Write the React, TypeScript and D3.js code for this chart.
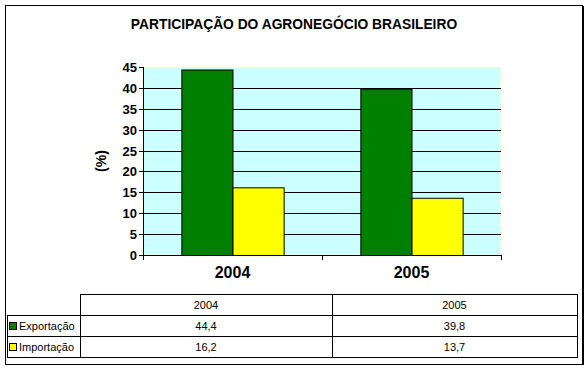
import React from "react";
import * as d3 from "d3";

const title = "PARTICIPAÇÃO DO AGRONEGÓCIO BRASILEIRO";
const categories = ["2004", "2005"];
const seriesNames = ["Exportação", "Importação"];
const exportacao = [44.4, 39.8];
const importacao = [16.2, 13.7];
const tableExport = ["44,4", "39,8"];
const tableImport = ["16,2", "13,7"];
const yTicks = [0, 5, 10, 15, 20, 25, 30, 35, 40, 45];
const yLabel = "(%)";

const colors = ["#008000", "#ffff00"];
const FONT = "'Liberation Sans', Arial, sans-serif";

export default function App() {
  const W = 588, H = 369;
  const plot = { left: 143, right: 501, top: 67, bottom: 255 };
  const x0 = d3.scaleBand<string>().domain(categories).range([plot.left, plot.right]).paddingInner(0).paddingOuter(0);
  const x1 = d3.scaleBand<string>().domain(seriesNames).range([0, x0.bandwidth()]).paddingInner(0).paddingOuter(0.75);
  const y = d3.scaleLinear().domain([0, 45]).range([plot.bottom, plot.top]);
  const series = [exportacao, importacao];
  const tableRows = [tableExport, tableImport];

  // table geometry
  const tHeadTop = 294, rowH = 21;
  const colX = [80, 332, 577];
  const legendLeft = 7;

  return (
    <svg width={W} height={H} style={{ position: "absolute", left: 0, top: 0, background: "#fff" }} fontFamily={FONT}>
      <rect x={0} y={0} width={W} height={H} fill="#fff" />
      {/* outer frame */}
      <rect x={5.5} y={5.5} width={577} height={359} fill="none" stroke="#000" strokeWidth={1} />
      <line x1={583.5} x2={583.5} y1={6} y2={365} stroke="#000" strokeWidth={1} />
      {/* title */}
      <text x={294} y={29} textAnchor="middle" fontSize={13.8} fontWeight="bold">{title}</text>

      {/* plot area */}
      <rect x={plot.left} y={plot.top} width={plot.right - plot.left} height={plot.bottom - plot.top} fill="#ccffff" stroke="#ffffcc" strokeWidth={1} />
      {/* gridlines */}
      {yTicks.filter(t => t > 0 && t < 45).map(t => (
        <line key={t} x1={plot.left} x2={plot.right} y1={Math.round(y(t)) + 0.5} y2={Math.round(y(t)) + 0.5} stroke="#000" strokeWidth={1} />
      ))}
      {/* bars */}
      {categories.map((c, ci) => (
        <g key={c}>
          {seriesNames.map((s, si) => (
            <rect key={s}
              x={(x0(c) ?? 0) + (x1(s) ?? 0) + 0.5}
              y={y(series[si][ci]) + 0.5}
              width={x1.bandwidth()}
              height={plot.bottom - y(series[si][ci])}
              fill={colors[si]} stroke="#000" strokeWidth={1} />
          ))}
        </g>
      ))}
      {/* y axis */}
      <line x1={plot.left + 0.5} x2={plot.left + 0.5} y1={plot.top} y2={plot.bottom + 1} stroke="#000" />
      {yTicks.map(t => (
        <g key={t}>
          <line x1={plot.left - 4} x2={plot.left} y1={Math.round(y(t)) + 0.5} y2={Math.round(y(t)) + 0.5} stroke="#000" />
          <text x={plot.left - 6} y={y(t) + 5} textAnchor="end" fontSize={13} fontWeight="bold">{t}</text>
        </g>
      ))}
      {/* x axis */}
      <line x1={plot.left} x2={plot.right + 1} y1={plot.bottom + 0.5} y2={plot.bottom + 0.5} stroke="#000" />
      {[...categories.map(c => x0(c) ?? 0), plot.right].map((v, i) => (
        <line key={i} x1={Math.round(v) + 0.5} x2={Math.round(v) + 0.5} y1={plot.bottom} y2={plot.bottom + 5} stroke="#000" />
      ))}
      {categories.map(c => (
        <text key={c} x={(x0(c) ?? 0) + x0.bandwidth() / 2} y={plot.bottom + 23} textAnchor="middle" fontSize={16} fontWeight="bold">{c}</text>
      ))}
      {/* y label */}
      <text transform={`translate(106,${(plot.top + plot.bottom) / 2}) rotate(-90)`} textAnchor="middle" fontSize={14} fontWeight="bold">{yLabel}</text>

      {/* data table */}
      <g stroke="#000" strokeWidth={1} shapeRendering="crispEdges">
        <line x1={colX[0]} x2={colX[2]} y1={tHeadTop + 0.5} y2={tHeadTop + 0.5} />
        {[1, 2, 3].map(i => (
          <line key={i} x1={legendLeft} x2={colX[2]} y1={tHeadTop + i * rowH + 0.5} y2={tHeadTop + i * rowH + 0.5} />
        ))}
        <line x1={legendLeft + 0.5} x2={legendLeft + 0.5} y1={tHeadTop + rowH} y2={tHeadTop + 3 * rowH} />
        {colX.map((cx, i) => (
          <line key={i} x1={cx + 0.5} x2={cx + 0.5} y1={tHeadTop} y2={tHeadTop + 3 * rowH + 1} />
        ))}
      </g>
      {categories.map((c, ci) => (
        <text key={c} x={(colX[ci] + colX[ci + 1]) / 2} y={tHeadTop + 15} textAnchor="middle" fontSize={11}>{c}</text>
      ))}
      {seriesNames.map((s, si) => (
        <g key={s}>
          <rect x={9.5} y={tHeadTop + (si + 1) * rowH + 7.5} width={7} height={7} fill={colors[si]} stroke="#000" strokeWidth={1} />
          <text x={19} y={tHeadTop + (si + 1) * rowH + 15} fontSize={11}>{s}</text>
          {tableRows[si].map((v, ci) => (
            <text key={ci} x={(colX[ci] + colX[ci + 1]) / 2} y={tHeadTop + (si + 1) * rowH + 15} textAnchor="middle" fontSize={11}>{v}</text>
          ))}
        </g>
      ))}
    </svg>
  );
}
